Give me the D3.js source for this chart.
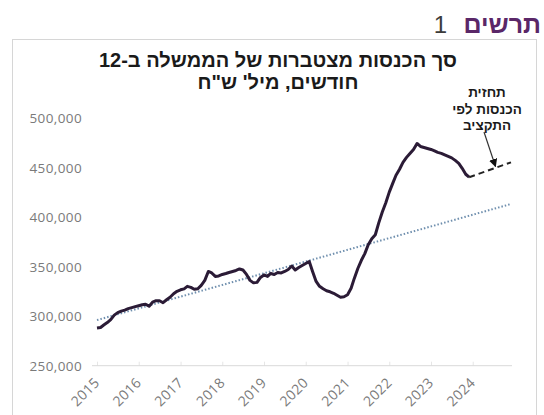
<!DOCTYPE html>
<html lang="he">
<head>
<meta charset="utf-8">
<script src="https://cdn.jsdelivr.net/npm/d3@7"></script>
<style>
  html, body { margin: 0; padding: 0; background: #fff; }
  svg { display: block; }
</style>
</head>
<body>
<svg id="chart" width="544" height="415"></svg>
<script>
// ---------- DATA ----------
const startDate = new Date(2015, 0, 1);
// monthly 12-month cumulative revenue, million NIS, Jan 2015 .. Dec 2023
const revenue = [
  288000, 288500, 291000, 293500, 296500, 301000, 303500, 305000, 306000, 307500, 308500, 309500,
  310500, 311500, 312000, 310000, 314000, 315500, 315500, 313500, 316500, 319000, 322500, 325000,
  326500, 327500, 330000, 329000, 327000, 327500, 331000, 336000, 345000, 343500, 340000, 340500,
  342000, 343000, 344000, 345000, 346000, 347500, 346500, 342000, 336000, 333500, 334000, 339000,
  341500, 340000, 343000, 342000, 344000, 343500, 345000, 347000, 350500, 346500, 349000, 351000,
  353000, 355000, 345000, 335000, 330000, 327500, 325500, 324500, 323000, 321000, 319000, 319500,
  321500, 328000, 338000, 348000, 356000, 363000, 372000, 378000, 382000, 394000, 405000, 414000,
  425000, 434000, 442000, 448000, 455000, 460000, 464000, 468000, 474000, 471000, 470000, 469000,
  468000, 466500, 465000, 464000, 462500, 461000, 459500, 457000, 454000, 449000, 443000, 440000
];
const forecastDates = [new Date(2023, 11, 1), new Date(2024, 11, 1)];
const forecastValues = [440000, 455000];
const trendDates = [new Date(2015, 0, 1), new Date(2024, 11, 1)];
const trendValues = [296000, 413000];
const yTicks = [250000, 300000, 350000, 400000, 450000, 500000];
const xTickYears = [2015, 2016, 2017, 2018, 2019, 2020, 2021, 2022, 2023, 2024];
const headerBold = "תרשים";
const headerNum = "1";
const titleLines = ["סך הכנסות מצטברות של הממשלה ב-12", "חודשים, מיל' ש\"ח"];
const noteLines = ["תחזית", "הכנסות לפי", "התקציב"];

// ---------- DRAW ----------
const svg = d3.select("#chart");
const series = revenue.map((v, i) => ({ date: d3.timeMonth.offset(startDate, i), value: v }));

const x = d3.scaleTime()
  .domain([new Date(2015, 0, 1), new Date(2024, 11, 1)])
  .range([97, 511]);
const y = d3.scaleLinear()
  .domain([250000, 500000])
  .range([365.7, 117.7]);

// header
svg.append("text")
  .attr("x", 541).attr("y", 33)
  .attr("text-anchor", "end")
  .style("font-family", "'Liberation Sans', Arial, sans-serif")
  .style("font-size", "25px")
  .style("font-weight", "bold")
  .attr("fill", "#5a2768")
  .text(headerBold);
svg.append("text")
  .attr("x", 447).attr("y", 33)
  .attr("text-anchor", "end")
  .style("font-family", "'Liberation Sans', Arial, sans-serif")
  .style("font-size", "24px")
  .attr("fill", "#3b3b3b")
  .text(headerNum);

// frame
svg.append("rect")
  .attr("x", 12.5).attr("y", 39.5).attr("width", 524).attr("height", 380)
  .attr("fill", "none").attr("stroke", "#d6d6d6").attr("stroke-width", 1);

// title
svg.selectAll("text.title").data(titleLines).enter().append("text")
  .attr("class", "title")
  .attr("x", 278).attr("y", (d, i) => 67 + i * 21.5)
  .attr("text-anchor", "middle")
  .attr("direction", "rtl")
  .style("font-family", "'Liberation Sans', Arial, sans-serif")
  .style("font-weight", "bold")
  .style("font-size", "20px")
  .attr("fill", "#1a1a1a")
  .text(d => d);

// y axis (labels only)
const yAxis = d3.axisLeft(y).tickValues(yTicks).tickFormat(d3.format(",")).tickSize(0).tickPadding(0);
const gy = svg.append("g").attr("transform", "translate(82,0)").call(yAxis);
gy.select(".domain").remove();
gy.selectAll("text")
  .attr("dy", "0.35em")
  .style("font-family", "'Open Sans', sans-serif")
  .style("font-size", "13.5px")
  .style("letter-spacing", "0.4px")
  .attr("fill", "#7a7a7a");

// x axis
const xAxis = d3.axisBottom(x)
  .tickValues(xTickYears.map(yr => new Date(yr, 0, 1)))
  .tickFormat(d3.timeFormat("%Y"))
  .tickSize(-4).tickPadding(0);
const gx = svg.append("g").attr("transform", "translate(0,365.7)").call(xAxis);
gx.select(".domain").remove();
gx.selectAll(".tick line").attr("stroke", "#e6e6e6");
gx.selectAll("text")
  .attr("x", 0).attr("y", 0).attr("dy", null).attr("dx", null)
  .attr("text-anchor", "end")
  .attr("transform", "translate(3,18) rotate(-45)")
  .style("font-family", "'Open Sans', sans-serif")
  .style("font-size", "14px")
  .style("letter-spacing", "0.3px")
  .attr("fill", "#7a7a7a");
svg.append("line")
  .attr("x1", x.range()[0] - 5).attr("x2", x.range()[1] + 1)
  .attr("y1", 365.7).attr("y2", 365.7)
  .attr("stroke", "#d9d9d9").attr("stroke-width", 1);

// trend line
const trend = trendDates.map((d, i) => ({ date: d, value: trendValues[i] }));
const line = d3.line().x(d => x(d.date)).y(d => y(d.value));
svg.append("path").datum(trend)
  .attr("d", line)
  .attr("fill", "none")
  .attr("stroke", "#6f8fae")
  .attr("stroke-width", 2)
  .attr("stroke-dasharray", "1.5,2");

// main series
svg.append("path").datum(series)
  .attr("d", line)
  .attr("fill", "none")
  .attr("stroke", "#2b1b36")
  .attr("stroke-width", 3)
  .attr("stroke-linejoin", "round");

// forecast
const fc = forecastDates.map((d, i) => ({ date: d, value: forecastValues[i] }));
svg.append("path").datum(fc)
  .attr("d", line)
  .attr("fill", "none")
  .attr("stroke", "#222")
  .attr("stroke-width", 2)
  .attr("stroke-dasharray", "6,4");

// annotation
svg.selectAll("text.note").data(noteLines).enter().append("text")
  .attr("class", "note")
  .attr("x", 487).attr("y", (d, i) => 97 + i * 16.5)
  .attr("text-anchor", "middle")
  .attr("direction", "rtl")
  .style("font-family", "'Liberation Sans', Arial, sans-serif")
  .style("font-weight", "bold")
  .style("font-size", "13.5px")
  .attr("fill", "#1a1a1a")
  .text(d => d);

svg.append("defs").append("marker")
  .attr("id", "arr").attr("viewBox", "0 0 10 10")
  .attr("refX", 9).attr("refY", 5)
  .attr("markerWidth", 7).attr("markerHeight", 7)
  .attr("orient", "auto")
  .append("path").attr("d", "M0,0 L10,5 L0,10 z").attr("fill", "#111");
const tipX = x(new Date(2024, 6, 1)) + 2;
const tipY = y(447800) - 3;
svg.append("line")
  .attr("x1", 484).attr("y1", 132)
  .attr("x2", tipX).attr("y2", tipY)
  .attr("stroke", "#333").attr("stroke-width", 1.2)
  .attr("marker-end", "url(#arr)");
</script>
</body>
</html>
